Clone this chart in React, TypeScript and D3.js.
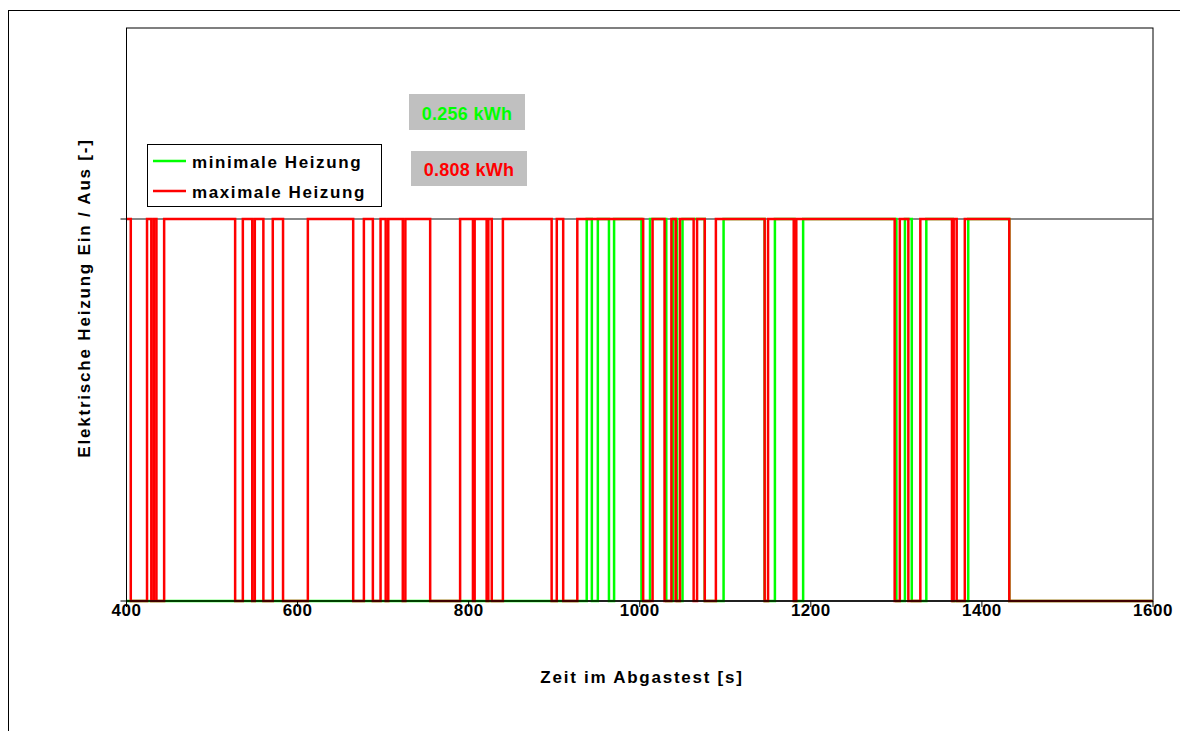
import React from "react";
import * as d3 from "d3";

// ---- data ----
const xTicks = [400, 600, 800, 1000, 1200, 1400, 1600];
const yTicks = [0, 1];

const redT = [400, 405, 424, 429, 432, 435, 444, 527, 536, 547, 550, 560, 571, 583, 612, 665, 677.5, 688, 697, 703, 706, 723, 726, 755, 790, 805, 807, 821, 823, 827, 840, 897, 903, 910.5, 927, 1004, 1015, 1029, 1037, 1042, 1047, 1063, 1067, 1076, 1089, 1146, 1150, 1180, 1183, 1298, 1304, 1314, 1328, 1365, 1367, 1370.5, 1380, 1432, 1600];
const redV = [1, 0, 1, 0, 1, 0, 1, 0, 1, 0, 1, 0, 1, 0, 1, 0, 1, 0, 1, 0, 1, 0, 1, 0, 1, 0, 1, 0, 1, 0, 1, 0, 1, 0, 1, 0, 1, 0, 1, 0, 1, 0, 1, 0, 1, 0, 1, 0, 1, 0, 1, 0, 1, 0, 1, 0, 1, 0, 0];

const greenT = [400, 938, 944, 951, 964, 970, 1002, 1012, 1031, 1039, 1043.5, 1050, 1076, 1098, 1146, 1158, 1181, 1191, 1300, 1310, 1318, 1335, 1366, 1384, 1432, 1600];
const greenV = [0, 1, 0, 1, 0, 1, 0, 1, 0, 1, 0, 1, 0, 1, 0, 1, 0, 1, 0, 1, 0, 1, 0, 1, 0, 0];

const seriesNames = ["minimale Heizung", "maximale Heizung"];
const seriesColors = ["#00FF00", "#FF0000"];
const energyLabels = ["0.256 kWh", "0.808 kWh"];

const xTitle = "Zeit im Abgastest [s]";
const yTitle = "Elektrische Heizung Ein / Aus [-]";

const FONT = "'Liberation Sans', Arial, sans-serif";

export default function App() {
  const left = 126.5, right = 1153, top = 28, bottom = 601;
  const x = d3.scaleLinear().domain([400, 1600]).range([left, right]);
  const y = d3.scaleLinear().domain([0, 1.5]).range([bottom, top]);

  const line = d3
    .line<[number, number]>()
    .x((d) => x(d[0]))
    .y((d) => y(d[1]))
    .curve(d3.curveStepAfter);

  const green = greenT.map((t, i) => [t, greenV[i]] as [number, number]);
  const red = redT.map((t, i) => [t, redV[i]] as [number, number]);

  return (
    <svg
      width={1180}
      height={731}
      style={{ position: "absolute", left: 0, top: 0, background: "#fff" }}
      fontFamily={FONT}
    >
      <rect x={8.5} y={10.5} width={1180} height={740} fill="#fff" stroke="#000" strokeWidth={1} />

      {/* plot frame */}
      <rect x={left} y={top} width={right - left} height={bottom - top} fill="#fff" stroke="#000" strokeWidth={1} />

      {/* gridline at 1 */}
      <line x1={left} x2={right} y1={y(1)} y2={y(1)} stroke="#606060" strokeWidth={1.5} />

      {/* series */}
      <path d={line(green) || ""} fill="none" stroke={seriesColors[0]} strokeWidth={2.5} />
      <path d={line(red) || ""} fill="none" stroke={seriesColors[1]} strokeWidth={2.5} />

      {/* axes */}
      <line x1={left} x2={left} y1={top} y2={bottom} stroke="#000" strokeWidth={1} />
      <line x1={left} x2={right} y1={bottom} y2={bottom} stroke="#000" strokeWidth={1.5} />
      {xTicks.map((t) => (
        <g key={t}>
          <line x1={x(t)} x2={x(t)} y1={bottom} y2={bottom + 6} stroke="#000" strokeWidth={1} />
          <text x={x(t)} y={bottom + 15} textAnchor="middle" fontSize={17} fontWeight="bold" letterSpacing={0.5} fill="#000">
            {t}
          </text>
        </g>
      ))}
      {yTicks.map((t) => (
        <line key={t} x1={left - 6} x2={left} y1={y(t)} y2={y(t)} stroke="#000" strokeWidth={1} />
      ))}

      {/* axis titles */}
      <text x={642} y={683} textAnchor="middle" fontSize={17} fontWeight="bold" letterSpacing={1.75}>
        {xTitle}
      </text>
      <text
        transform={`translate(90,298) rotate(-90)`}
        textAnchor="middle"
        fontSize={17}
        fontWeight="bold"
        letterSpacing={1.8}
      >
        {yTitle}
      </text>

      {/* energy labels */}
      <rect x={409} y={94} width={116} height={36} fill="#C0C0C0" />
      <text x={467} y={120} textAnchor="middle" fontSize={18} fontWeight="bold" letterSpacing={0.3} fill={seriesColors[0]}>
        {energyLabels[0]}
      </text>
      <rect x={411} y={151} width={116} height={35} fill="#C0C0C0" />
      <text x={469} y={175.5} textAnchor="middle" fontSize={18} fontWeight="bold" letterSpacing={0.3} fill={seriesColors[1]}>
        {energyLabels[1]}
      </text>

      {/* legend */}
      <rect x={147.5} y={144.5} width={234} height={62} fill="#fff" stroke="#000" strokeWidth={1} />
      {seriesNames.map((n, i) => (
        <g key={n}>
          <line x1={153} x2={186} y1={161 + i * 30} y2={161 + i * 30} stroke={seriesColors[i]} strokeWidth={2.5} />
          <text x={192} y={168 + i * 30} fontSize={17} fontWeight="bold" letterSpacing={1.6}>
            {n}
          </text>
        </g>
      ))}
    </svg>
  );
}
